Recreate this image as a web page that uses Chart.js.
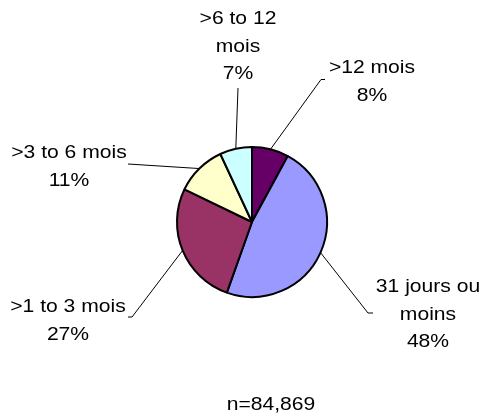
<!DOCTYPE html>
<html>
<head>
<meta charset="utf-8">
<script src="https://cdn.jsdelivr.net/npm/chart.js@4/dist/chart.umd.min.js"></script>
<style>
  html, body { margin: 0; padding: 0; background: #fff; }
  #wrap { width: 484px; height: 417px; position: relative; }
</style>
</head>
<body>
<div id="wrap"><canvas id="pieChart"></canvas></div>
<script>
// Data (percent of claims by age)
const sliceLabels = [['>12 mois'], ['31 jours ou', 'moins'], ['>1 to 3 mois'], ['>3 to 6 mois'], ['>6 to 12', 'mois']];
const sliceValues = [8, 48, 27, 11, 7];
const sliceColors = ['#660066', '#9999FF', '#993366', '#FFFFCC', '#CCFFFF'];
const sampleNote = 'n=84,869';

// Where each label sits (text centre x, first baseline y, leader elbow, tick end)
const labelLayout = [
  { x: 372, y: 73,  elbow: [321, 79.5], tick: [325, 79.5] },
  { x: 428, y: 292, elbow: [368, 313],  tick: [373, 313] },
  { x: 68,  y: 312, elbow: [132, 317],  tick: [128, 317] },
  { x: 69,  y: 158, elbow: [128, 164],  tick: null },
  { x: 238, y: 24,  elbow: [238, 88],   tick: null }
];
const lineH = 27.5;
const fontPx = 19;
const stretchX = 1.11;

function drawText(ctx, t, cx, by) {
  ctx.save();
  ctx.translate(cx, by);
  ctx.scale(stretchX, 1);
  ctx.fillText(t, 0, 0);
  ctx.restore();
}

const sliceLabelPlugin = {
  id: 'sliceLabels',
  afterDraw(chart) {
    const ctx = chart.ctx;
    const meta = chart.getDatasetMeta(0);
    const total = sliceValues.reduce((a, b) => a + b, 0);
    ctx.save();
    ctx.strokeStyle = '#000';
    ctx.lineWidth = 1;
    ctx.fillStyle = '#000';
    ctx.font = fontPx + 'px Arial, "Liberation Sans", sans-serif';
    ctx.textAlign = 'center';
    ctx.textBaseline = 'alphabetic';
    meta.data.forEach((arc, i) => {
      const p = arc.getProps(['x', 'y', 'startAngle', 'endAngle', 'outerRadius'], true);
      const mid = (p.startAngle + p.endAngle) / 2;
      const ax = p.x + Math.cos(mid) * p.outerRadius;
      const ay = p.y + Math.sin(mid) * p.outerRadius;
      const lay = labelLayout[i];
      ctx.beginPath();
      ctx.moveTo(ax, ay);
      ctx.lineTo(lay.elbow[0], lay.elbow[1]);
      if (lay.tick) ctx.lineTo(lay.tick[0], lay.tick[1]);
      ctx.stroke();
      const lines = sliceLabels[i].concat([Math.round(sliceValues[i] / total * 100) + '%']);
      lines.forEach((t, k) => drawText(ctx, t, lay.x, lay.y + k * lineH));
    });
    drawText(ctx, sampleNote, 271, 410);
    ctx.restore();
  }
};

const ctxPie = document.getElementById('pieChart').getContext('2d');
new Chart(ctxPie, {
  type: 'pie',
  data: {
    labels: sliceLabels.map(l => l.join(' ')),
    datasets: [{
      data: sliceValues,
      backgroundColor: sliceColors,
      borderColor: '#000',
      borderWidth: 2
    }]
  },
  options: {
    responsive: true,
    maintainAspectRatio: false,
    animation: false,
    layout: { padding: { left: 176, right: 156, top: 146, bottom: 119 } },
    plugins: {
      legend: { display: false },
      tooltip: { enabled: false }
    }
  },
  plugins: [sliceLabelPlugin]
});
</script>
</body>
</html>
